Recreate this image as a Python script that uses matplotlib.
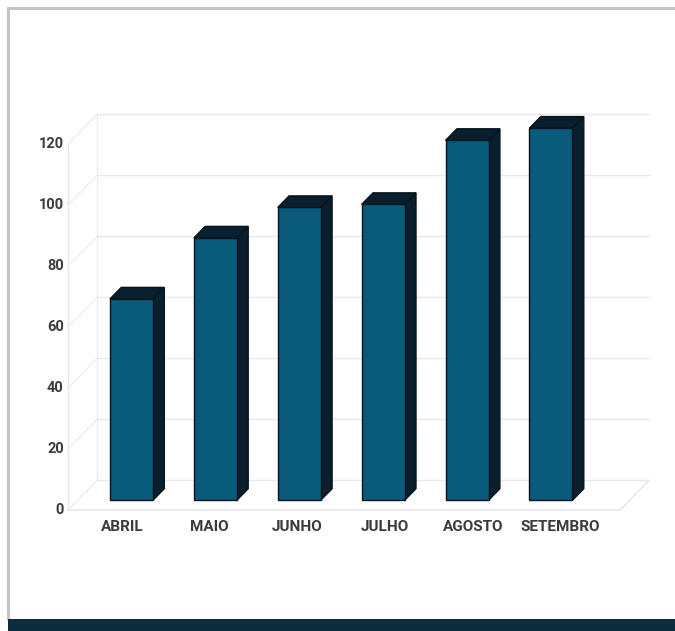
import numpy as np
import matplotlib
matplotlib.use("Agg")
import matplotlib.pyplot as plt
from matplotlib.patches import Polygon, Rectangle

# data
months = ["ABRIL", "MAIO", "JUNHO", "JULHO", "AGOSTO", "SETEMBRO"]
values = [66, 86, 96, 97, 118, 122]
y_ticks = [0, 20, 40, 60, 80, 100, 120]

FRONT = "#0a5a7b"
DARK = "#0a1f2e"
EDGE = "#06141e"
GRID = "#e9e9e9"
TEXT = "#3b3b3b"

# pixel mapping used to place the axes limits (figure is 675x631 px)
W, H = 675, 631
X0_PX, X_STEP = 121.9, 83.9      # category 0 centre at floor front, spacing
Y0_PX, Y_STEP = 510.0, 3.05      # value 0 at floor front, px per unit

# depth of the "3d" box in data units
DX, DY = 29 / X_STEP, 9.7
x_left, x_right = -0.642, 5.937
bar_w = 0.513
t0, t1 = 0.33, 0.72              # bar depth range


def proj(x, y, t):
    return x + t * DX, y + t * DY


fig = plt.figure(figsize=(W / 100, H / 100), dpi=100)
ax = fig.add_axes([0, 0, 1, 1])
ax.set_xlim(-X0_PX / X_STEP, (W - X0_PX) / X_STEP)
ax.set_ylim((Y0_PX - H) / Y_STEP, Y0_PX / Y_STEP)
ax.axis("off")

# back wall grid lines and left wall diagonals
for v in y_ticks:
    xa, ya = proj(x_left, v, 1)
    xb, yb = proj(x_right, v, 1)
    ax.plot([xa, xb], [ya, yb], color=GRID, lw=1.0, zorder=1)
    ax.plot([x_left, xa], [v, ya], color=GRID, lw=0.8, zorder=1)
    ax.text(x_left - 0.05, v, str(v), ha="right", va="center",
            fontsize=10.5, color=TEXT, family="Roboto", weight="bold")

# left wall front edge and floor outline
ax.plot([x_left, x_left], [0, y_ticks[-1]], color=GRID, lw=1.0, zorder=1)
ax.plot([x_left, x_right], [0, 0], color=GRID, lw=1.2, zorder=1)
xr, yr = proj(x_right, 0, 1)
ax.plot([x_right, xr], [0, yr], color=GRID, lw=1.2, zorder=1)
xl, yl = proj(x_left, y_ticks[-1], 1)
ax.plot([xl, xl], [yl - y_ticks[-1], yl], color=GRID, lw=0.8, zorder=1)

# bars as front / side / top faces
for i, (name, v) in enumerate(zip(months, values)):
    xa, xb = i - bar_w / 2, i + bar_w / 2
    front = [proj(xa, 0, t0), proj(xb, 0, t0), proj(xb, v, t0), proj(xa, v, t0)]
    side = [proj(xb, 0, t0), proj(xb, 0, t1), proj(xb, v, t1), proj(xb, v, t0)]
    top = [proj(xa, v, t0), proj(xb, v, t0), proj(xb, v, t1), proj(xa, v, t1)]
    ax.add_patch(Polygon(side, closed=True, fc=DARK, ec=EDGE, lw=1.0, zorder=3))
    ax.add_patch(Polygon(top, closed=True, fc=DARK, ec=EDGE, lw=1.0, zorder=3))
    ax.add_patch(Polygon(front, closed=True, fc=FRONT, ec=EDGE, lw=1.0, zorder=4))
    ax.text(i + t0 * DX + (i - 2.5) * 0.045, -5.6, name, ha="center", va="center",
            fontsize=11, color=TEXT, family="Roboto", weight="bold")

# card frame and bottom band
ax.add_patch(Rectangle((0.012, 0.018), 1.2, 0.97, transform=ax.transAxes,
                       fill=False, ec="#c4c4c4", lw=2.2, zorder=0))
ax.add_patch(Rectangle((0.012, 0), 1.0, 0.019, transform=ax.transAxes,
                       fc="#0d2d3d", ec="none", zorder=5))

fig.savefig("out.png", dpi=100)
